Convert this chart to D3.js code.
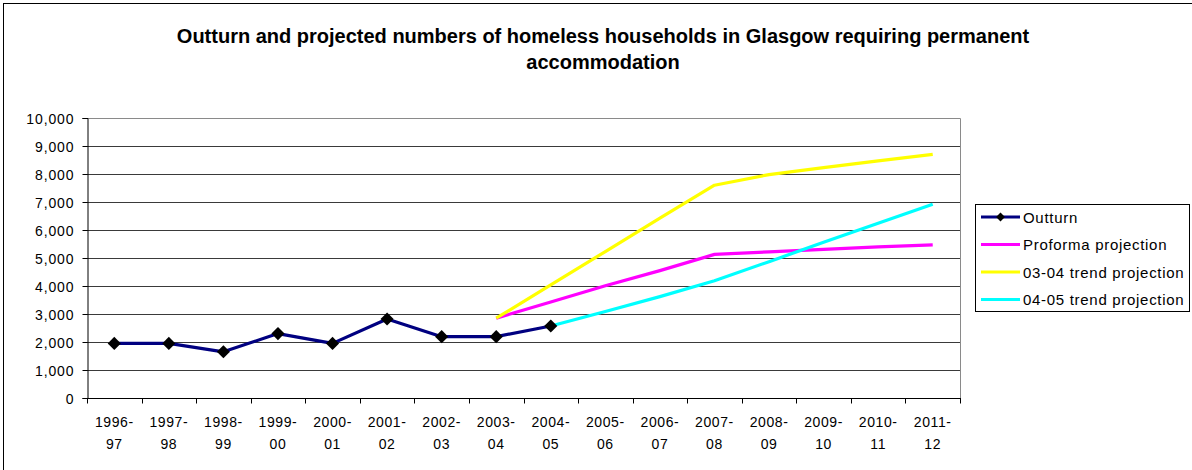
<!DOCTYPE html>
<html>
<head>
<meta charset="utf-8">
<script src="https://cdn.jsdelivr.net/npm/d3@7"></script>
<style>
  html, body { margin: 0; padding: 0; background: #fff; }
  svg { display: block; font-family: "Liberation Sans", Arial, sans-serif; }
</style>
</head>
<body>
<svg id="chart" width="1192" height="470"></svg>
<script>
// Financial years shown on the x axis
const years = ["1996-97","1997-98","1998-99","1999-00","2000-01","2001-02","2002-03","2003-04",
               "2004-05","2005-06","2006-07","2007-08","2008-09","2009-10","2010-11","2011-12"];

// Recorded outturn (1996-97 to 2004-05)
const outturn = [1950, 1950, 1650, 2300, 1950, 2820, 2190, 2190, 2570];

// Projections, starting from 2003-04 / 2004-05
const proformaYears = years.slice(7);
const proforma = [2850, 3430, 4010, 4550, 5130, 5220, 5310, 5400, 5470];

const trend0304Years = years.slice(7);
const trend0304 = [2850, 4040, 5230, 6420, 7600, 7980, 8230, 8470, 8700];

const trend0405Years = years.slice(8);
const trend0405 = [2570, 3090, 3620, 4190, 4870, 5560, 6240, 6920];

const yTicks = [0, 1000, 2000, 3000, 4000, 5000, 6000, 7000, 8000, 9000, 10000];

const seriesList = [
  { name: "Outturn", cats: years.slice(0, 9), values: outturn, color: "#000080", marker: true },
  { name: "Proforma projection", cats: proformaYears, values: proforma, color: "#FF00FF" },
  { name: "03-04 trend projection", cats: trend0304Years, values: trend0304, color: "#FFFF00" },
  { name: "04-05 trend projection", cats: trend0405Years, values: trend0405, color: "#00FFFF" }
];

const svg = d3.select("#chart");
const plot = { left: 87, right: 960, top: 118, bottom: 398 };

// outer chart border
svg.append("rect")
  .attr("x", 3.5).attr("y", 3.5)
  .attr("width", 1200).attr("height", 480)
  .attr("fill", "#fff").attr("stroke", "#000").attr("stroke-width", 1);

// title
const title = svg.append("text")
  .attr("text-anchor", "middle")
  .attr("font-size", 20).attr("font-weight", "bold").attr("fill", "#000");
title.append("tspan").attr("x", 603).attr("y", 43)
  .text("Outturn and projected numbers of homeless households in Glasgow requiring permanent");
title.append("tspan").attr("x", 603).attr("y", 69).text("accommodation");

const x = d3.scaleBand().domain(years).range([plot.left, plot.right]).padding(0);
const y = d3.scaleLinear().domain([0, 10000]).range([plot.bottom, plot.top]);
const cx = d => x(d) + x.bandwidth() / 2;

// gridlines
svg.append("g")
  .selectAll("line")
  .data(yTicks.filter(t => t > 0 && t < 10000))
  .join("line")
  .attr("x1", plot.left).attr("x2", plot.right)
  .attr("y1", d => Math.round(y(d)) + 0.5).attr("y2", d => Math.round(y(d)) + 0.5)
  .attr("stroke", "#3a3a3a").attr("stroke-width", 1);

// plot frame (top and right)
svg.append("path")
  .attr("d", `M${plot.left},${plot.top + 0.5}H${plot.right + 0.5}V${plot.bottom}`)
  .attr("fill", "none").attr("stroke", "#8a8a8a").attr("stroke-width", 1);

// y axis
const yAxis = svg.append("g")
  .attr("transform", `translate(${plot.left + 0.5},0)`)
  .call(d3.axisLeft(y).tickValues(yTicks).tickSize(5).tickPadding(8)
    .tickFormat(d3.format(",")));
yAxis.select(".domain").attr("stroke", "#000");
yAxis.selectAll(".tick line").attr("stroke", "#000");
yAxis.selectAll("text").attr("font-size", 14).attr("fill", "#000")
  .attr("letter-spacing", 0.9).attr("dy", "0.36em")
  .attr("font-family", "Liberation Sans, Arial, sans-serif");

// x axis with ticks on category boundaries
const xg = svg.append("g").attr("transform", `translate(0,${plot.bottom + 0.5})`);
xg.append("line").attr("x1", plot.left).attr("x2", plot.right + 1)
  .attr("stroke", "#000");
const edges = years.map(d => x(d)).concat([plot.right]);
xg.selectAll("line.edge").data(edges).join("line").attr("class", "edge")
  .attr("x1", d => Math.round(d) + 0.5).attr("x2", d => Math.round(d) + 0.5)
  .attr("y1", 0).attr("y2", 5).attr("stroke", "#000");
const xl = xg.selectAll("text.cat").data(years).join("text").attr("class", "cat")
  .attr("text-anchor", "middle").attr("font-size", 14).attr("letter-spacing", 0.6)
  .attr("fill", "#000");
xl.append("tspan").attr("x", d => cx(d)).attr("y", 28.5).text(d => d.split("-")[0] + "-");
xl.append("tspan").attr("x", d => cx(d)).attr("y", 50.5).text(d => d.split("-")[1]);

// series lines
const line = d3.line().x(d => cx(d.c)).y(d => y(d.v));
seriesList.forEach(s => {
  const pts = s.cats.map((c, i) => ({ c, v: s.values[i] }));
  svg.append("path").datum(pts)
    .attr("d", line)
    .attr("fill", "none").attr("stroke", s.color).attr("stroke-width", 3.2)
    .attr("stroke-linejoin", "round");
});

// diamond markers for the outturn
const diamond = d3.symbol().type(d3.symbolDiamond2).size(110);
const out = seriesList[0];
svg.append("g").selectAll("path")
  .data(out.cats.map((c, i) => ({ c, v: out.values[i] })))
  .join("path")
  .attr("transform", d => `translate(${cx(d.c)},${y(d.v)})`)
  .attr("d", diamond).attr("fill", "#000");

// legend
const lg = svg.append("g");
lg.append("rect").attr("x", 975.5).attr("y", 204.5).attr("width", 214).attr("height", 107)
  .attr("fill", "#fff").attr("stroke", "#000");
seriesList.forEach((s, i) => {
  const yy = 217 + i * 27.5;
  lg.append("line").attr("x1", 981).attr("x2", 1020).attr("y1", yy).attr("y2", yy)
    .attr("stroke", s.color).attr("stroke-width", 3.2);
  if (s.marker) {
    lg.append("path").attr("transform", `translate(1000.5,${yy})`)
      .attr("d", d3.symbol().type(d3.symbolDiamond2).size(50)).attr("fill", "#000");
  }
  lg.append("text").attr("x", 1023).attr("y", yy + 5.5)
    .attr("font-size", 15).attr("letter-spacing", 0.7).attr("fill", "#000").text(s.name);
});
</script>
</body>
</html>
